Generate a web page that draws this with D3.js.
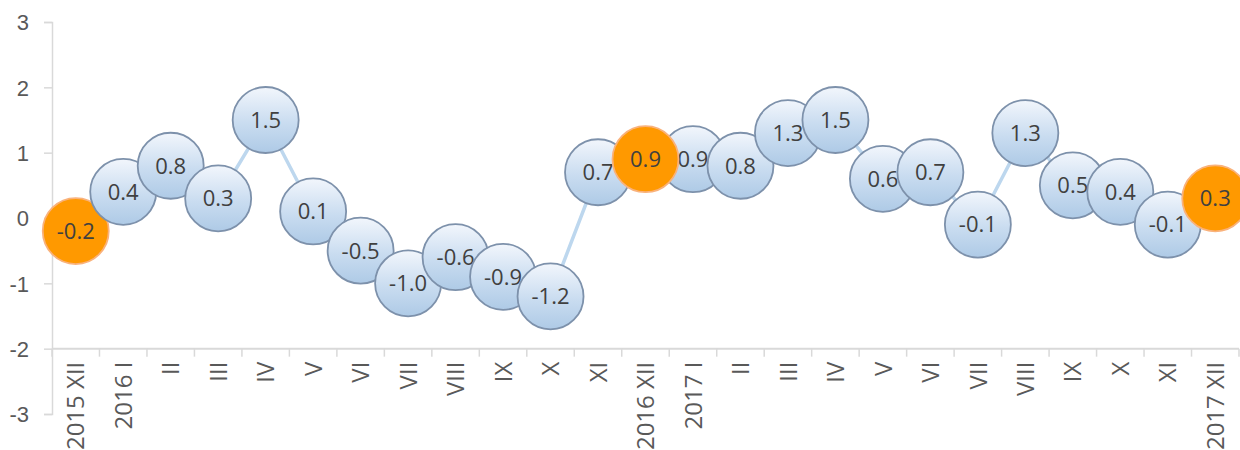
<!DOCTYPE html>
<html>
<head>
<meta charset="utf-8">
<script src="https://cdn.jsdelivr.net/npm/d3@7"></script>
<style>
  body { margin: 0; background: #fff; }
  svg { display: block; font-family: "Open Sans", "Liberation Sans", sans-serif; }
</style>
</head>
<body>
<div id="chart"></div>
<script>
// category labels (month, roman numerals)
const categories = ['2015 XII', '2016 I', 'II', 'III', 'IV', 'V', 'VI', 'VII', 'VIII', 'IX', 'X', 'XI',
  '2016 XII', '2017 I', 'II', 'III', 'IV', 'V', 'VI', 'VII', 'VIII', 'IX', 'X', 'XI', '2017 XII']
const values = [-0.2, 0.4, 0.8, 0.3, 1.5, 0.1, -0.5, -1.0, -0.6, -0.9, -1.2, 0.7,
  0.9, 0.9, 0.8, 1.3, 1.5, 0.6, 0.7, -0.1, 1.3, 0.5, 0.4, -0.1, 0.3]
// december points are highlighted
const highlighted = ['2015 XII', '2016 XII', '2017 XII']
const yTicks = [-3, -2, -1, 0, 1, 2, 3]

const width = 1240, height = 450
const margin = {top: 22, right: 1, bottom: 36, left: 52}

const data = categories.map((c, i) => ({key: i, name: c, v: values[i], hi: highlighted.includes(c)}))

// plain hyphen instead of unicode minus
const fmt1 = v => d3.format('.1f')(v).replace('\u2212', '-')
const fmt0 = v => d3.format('d')(v).replace('\u2212', '-')

const svg = d3.select('#chart').append('svg')
  .attr('width', width)
  .attr('height', height)

const x = d3.scaleBand()
  .domain(data.map(d => d.key))
  .range([margin.left, width - margin.right])

const y = d3.scaleLinear()
  .domain([-3, 3])
  .range([height - margin.bottom, margin.top])

const axisColor = '#d9d9d9'
const textColor = '#595959'

// gradient for the blue bubbles
const defs = svg.append('defs')
const grad = defs.append('linearGradient')
  .attr('id', 'blueGrad')
  .attr('x1', 0).attr('y1', 0).attr('x2', 0).attr('y2', 1)
grad.append('stop').attr('offset', '0%').attr('stop-color', '#f2f6fc')
grad.append('stop').attr('offset', '55%').attr('stop-color', '#c9dcf0')
grad.append('stop').attr('offset', '100%').attr('stop-color', '#aecae6')

// Y axis
const yAxis = svg.append('g')
  .attr('transform', `translate(${margin.left},0)`)
  .call(d3.axisLeft(y).tickValues(yTicks).tickSize(8).tickPadding(15).tickFormat(fmt0))
yAxis.select('.domain').attr('stroke', axisColor).attr('stroke-width', 1.5)
yAxis.selectAll('.tick line').attr('stroke', axisColor).attr('stroke-width', 1.5)
yAxis.selectAll('.tick text')
  .attr('fill', textColor)
  .attr('dy', '0.36em')
  .style('font-size', '22px')

// X axis sits at y = -2
const xAxisY = y(-2)
const xg = svg.append('g')
xg.append('line')
  .attr('x1', margin.left).attr('x2', width - margin.right)
  .attr('y1', xAxisY).attr('y2', xAxisY)
  .attr('stroke', axisColor).attr('stroke-width', 2)
xg.selectAll('line.tick')
  .data(d3.range(categories.length + 1))
  .join('line')
  .attr('class', 'tick')
  .attr('x1', i => margin.left + i * x.step())
  .attr('x2', i => margin.left + i * x.step())
  .attr('y1', xAxisY)
  .attr('y2', xAxisY + 8)
  .attr('stroke', axisColor).attr('stroke-width', 1.5)
xg.selectAll('text')
  .data(data)
  .join('text')
  .attr('transform', d => `translate(${x(d.key) + x.bandwidth() / 2},${xAxisY + 13}) rotate(-90)`)
  .attr('text-anchor', 'end')
  .attr('dy', '0.36em')
  .attr('fill', textColor)
  .style('font-size', '24px')
  .text(d => d.name)

// connecting line
const line = d3.line()
  .x(d => x(d.key) + x.bandwidth() / 2)
  .y(d => y(d.v))
svg.append('path')
  .datum(data)
  .attr('d', line)
  .attr('fill', 'none')
  .attr('stroke', '#bdd7ee')
  .attr('stroke-width', 3.5)

// bubbles: blue ones in order, later highlighted ones on top
const order = data.filter(d => !d.hi || d.key === 0).concat(data.filter(d => d.hi && d.key !== 0))
const r = 33

const bubble = svg.append('g').selectAll('g')
  .data(order)
  .join('g')
  .attr('transform', d => `translate(${x(d.key) + x.bandwidth() / 2},${y(d.v)})`)

bubble.append('circle')
  .attr('r', r)
  .attr('fill', d => d.hi ? '#ff9900' : 'url(#blueGrad)')
  .attr('stroke', d => d.hi ? '#f9b27c' : '#7d91ab')
  .attr('stroke-width', 1.8)

bubble.append('text')
  .attr('text-anchor', 'middle')
  .attr('dy', '0.36em')
  .attr('fill', '#404040')
  .style('font-size', '22px')
  .text(d => fmt1(d.v))
</script>
</body>
</html>
